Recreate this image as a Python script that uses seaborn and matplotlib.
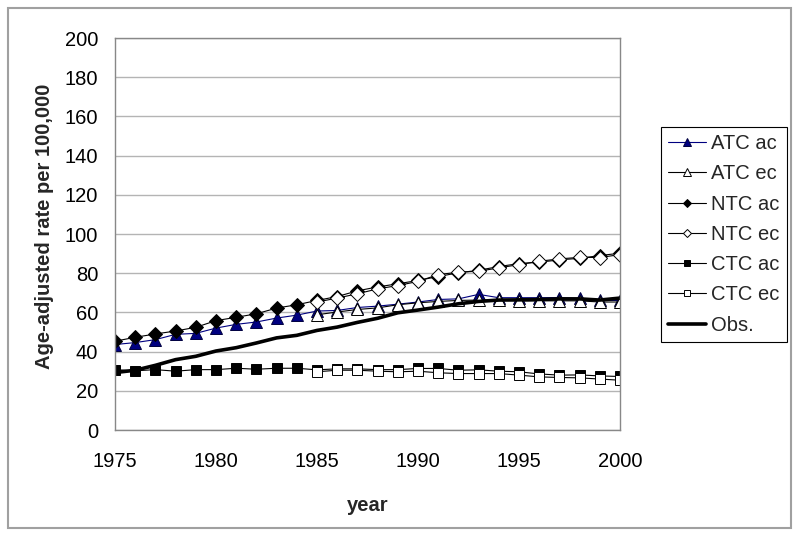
import numpy as np
import pandas as pd
import seaborn as sns
import matplotlib as mpl
mpl.use('Agg')
import matplotlib.pyplot as plt
from matplotlib.patches import Rectangle
from matplotlib.ticker import MultipleLocator

# data
years    = list(range(1975, 2001))
years_ec = list(range(1985, 2001))

atc_ac = [43.6, 44.6, 46.1, 48.8, 49.3, 52.0, 53.9, 55.1, 57.1, 58.6, 60.7, 61.0, 62.5,
          63.2, 64.2, 65.3, 66.6, 66.9, 69.2, 67.5, 67.5, 67.5, 67.6, 67.1, 66.1, 66.1]
atc_ec = [58.8, 60.2, 61.5, 62.3, 63.9, 64.9, 65.6, 66.1, 66.3, 66.3, 65.9, 65.9, 65.9,
          65.9, 65.3, 65.3]
ntc_ac = [45.3, 47.3, 49.0, 50.5, 52.4, 55.8, 57.5, 59.3, 62.2, 63.9, 66.1, 68.1, 71.0,
          73.0, 74.6, 76.3, 78.3, 80.2, 81.5, 83.4, 84.9, 85.6, 86.8, 87.6, 89.0, 90.2]
ntc_ec = [65.3, 67.3, 69.5, 72.0, 73.7, 75.8, 79.3, 80.5, 81.0, 82.7, 84.4, 86.1, 87.3,
          88.1, 88.0, 89.5]
ctc_ac = [30.8, 30.2, 30.8, 30.0, 30.8, 30.8, 31.5, 31.0, 31.5, 31.5, 30.7, 31.2, 31.2,
          30.8, 30.8, 31.4, 31.4, 30.5, 30.7, 30.0, 29.7, 28.6, 28.0, 28.1, 27.6, 27.3]
ctc_ec = [29.7, 30.5, 30.5, 30.0, 29.7, 30.0, 29.2, 28.8, 28.8, 28.8, 28.0, 27.1, 26.8,
          26.6, 26.0, 25.4]
obs    = [29.3, 30.5, 33.0, 35.9, 37.6, 40.3, 42.0, 44.4, 47.0, 48.3, 50.8, 52.5, 54.9,
          57.0, 59.8, 61.2, 62.7, 64.4, 65.6, 66.3, 66.4, 66.6, 66.9, 66.9, 66.3, 67.3]

sns.set_style('white')
plt.rcParams['font.family'] = ['Liberation Sans', 'DejaVu Sans']

fig = plt.figure(figsize=(8, 5.38), dpi=100)
ax = fig.add_axes([115/800, 1-430/538, 505/800, 392/538])

navy = '#000080'
thin = 0.8
fs = 14.5

sns.lineplot(x=years, y=atc_ac, ax=ax, color=navy, lw=thin, marker='^', ms=8,
             markerfacecolor=navy, markeredgecolor='#000040', mew=0.7, label='ATC ac')
sns.lineplot(x=years_ec, y=atc_ec, ax=ax, color='black', lw=thin, marker='^', ms=8,
             markerfacecolor='white', markeredgecolor='black', mew=0.7, label='ATC ec')
sns.lineplot(x=years, y=ntc_ac, ax=ax, color='black', lw=thin, marker='D', ms=6.8,
             markerfacecolor='black', markeredgecolor='black', mew=0.7, label='NTC ac')
sns.lineplot(x=years_ec, y=ntc_ec, ax=ax, color='black', lw=thin, marker='D', ms=6.8,
             markerfacecolor='white', markeredgecolor='black', mew=0.7, label='NTC ec')
sns.lineplot(x=years, y=ctc_ac, ax=ax, color='black', lw=thin, marker='s', ms=6.8,
             markerfacecolor='black', markeredgecolor='black', mew=0.7, label='CTC ac')
sns.lineplot(x=years_ec, y=ctc_ec, ax=ax, color='black', lw=thin, marker='s', ms=6.8,
             markerfacecolor='white', markeredgecolor='black', mew=0.7, label='CTC ec')
sns.lineplot(x=years, y=obs, ax=ax, color='black', lw=2.6, label='Obs.')

ax.set_xlim(1975, 2000)
ax.set_ylim(0, 200)
ax.xaxis.set_major_locator(MultipleLocator(5))
ax.xaxis.set_minor_locator(MultipleLocator(1))
ax.yaxis.set_major_locator(MultipleLocator(20))
ax.yaxis.set_minor_locator(MultipleLocator(4))

ax.grid(axis='y', which='major', color='#b4b4b4', lw=1.0)
ax.set_axisbelow(True)
for s in ax.spines.values():
    s.set_color('#888888')
    s.set_linewidth(1.0)

ax.tick_params(axis='both', which='major', direction='out', length=4, width=0.8,
               color='#888888', labelsize=fs, labelcolor='black')
ax.tick_params(axis='x', which='major', pad=12)
ax.tick_params(axis='y', which='major', pad=8)
ax.tick_params(axis='both', which='minor', direction='out', length=3, width=0.8,
               color='#888888')
ax.tick_params(axis='x', which='minor', length=4)

ax.set_xlabel('year', fontsize=fs, fontweight='bold')
ax.set_ylabel('Age-adjusted rate per 100,000', fontsize=fs, fontweight='bold')
ax.xaxis.set_label_coords(0.5, -0.193)
ax.xaxis.label.set_va('center')
ax.yaxis.set_label_coords(-0.14, 0.52)
ax.yaxis.label.set_va('center')

leg = ax.legend(loc='upper left', bbox_to_anchor=(661/800, 1-127/538),
                bbox_transform=fig.transFigure, borderaxespad=0, fontsize=fs,
                frameon=True, fancybox=False, edgecolor='black', framealpha=1,
                markerscale=0.65, handlelength=1.9, handletextpad=0.25,
                labelspacing=0.56, borderpad=0.35)
leg.get_frame().set_linewidth(0.8)

fig.patches.append(Rectangle((8/800, 10/538), 783/800, 520/538, transform=fig.transFigure,
                             fill=False, edgecolor='#a0a0a0', lw=1.5))

fig.savefig('out.png', dpi=100)
